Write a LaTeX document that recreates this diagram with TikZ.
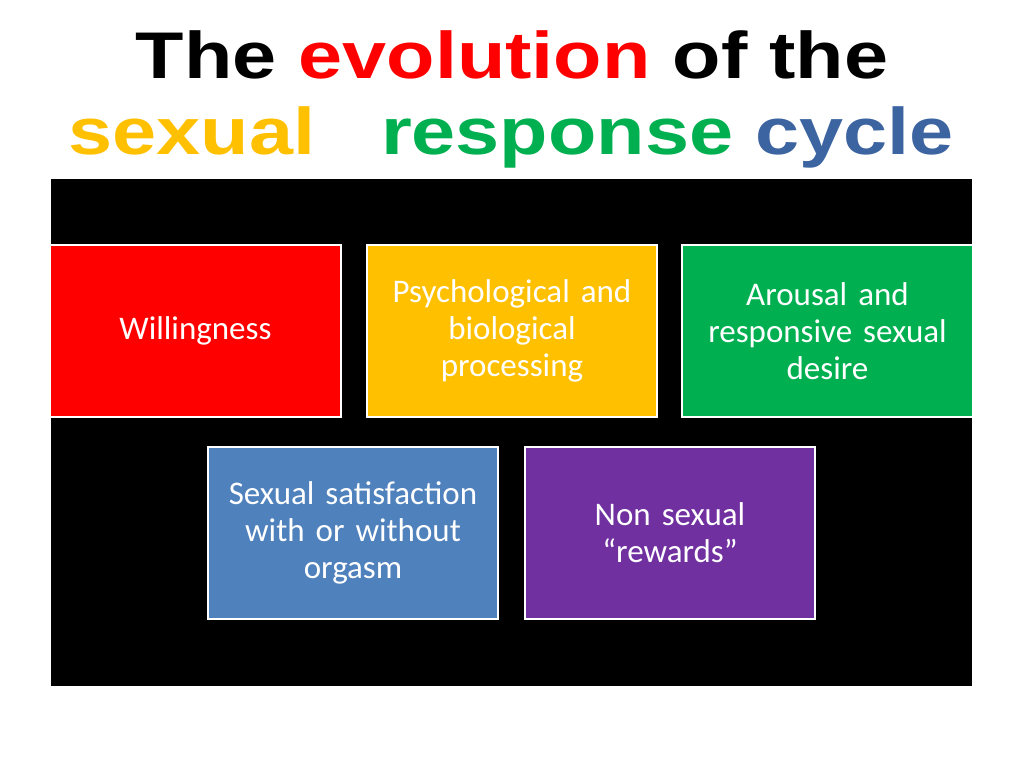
\documentclass[tikz,border=0pt]{standalone}
\usepackage{fontspec}
\setmainfont{Carlito}
\newfontfamily\titlefont{Liberation Sans}
\usetikzlibrary{positioning}
\definecolor{cRed}{HTML}{FF0000}
\definecolor{cYellow}{HTML}{FFC000}
\definecolor{cGreen}{HTML}{00B050}
\definecolor{cBlue}{HTML}{4F81BD}
\definecolor{cPurple}{HTML}{7030A0}
\definecolor{cCycle}{HTML}{3C64A0}
\tikzset{
  stagebox/.style={draw=white,line width=2pt,minimum width=287pt,minimum height=172pt,
    text width=284pt,align=center,text=white,font=\fontsize{33}{37}\selectfont},
  titleline/.style={font=\titlefont\bfseries\fontsize{66}{70}\selectfont,xscale=1.2,transform shape}
}
\begin{document}
\begin{tikzpicture}[x=1pt,y=-1pt]
\useasboundingbox (0,0) rectangle (1024,768);
\fill[white] (0,0) rectangle (1024,768);

% === Title ===
\node[titleline] (title1) at (512,55) {The \textcolor{cRed}{evolution} of the};
\node[titleline] (title2) at (511,137) {\textcolor{cYellow}{sexual}\hspace{55pt}\textcolor{cGreen}{response} \textcolor{cCycle}{cycle}};

% === Black panel ===
\fill[black] (51,179) rectangle (972,686);

% === Stage boxes ===
\node[stagebox,fill=cRed] (willing) at (195.5,331) {Willingness};
\node[stagebox,fill=cYellow] (process) at (512,331) {Psychological and\\ biological\\ processing};
\node[stagebox,fill=cGreen] (arousal) at (827.5,331) {Arousal and\\ responsive sexual\\ desire};
\node[stagebox,fill=cBlue] (satisf) at (353,533) {Sexual satisfaction\\ with or without\\ orgasm};
\node[stagebox,fill=cPurple] (reward) at (670,533) {Non sexual\\ ``rewards''};

\end{tikzpicture}
\end{document}
